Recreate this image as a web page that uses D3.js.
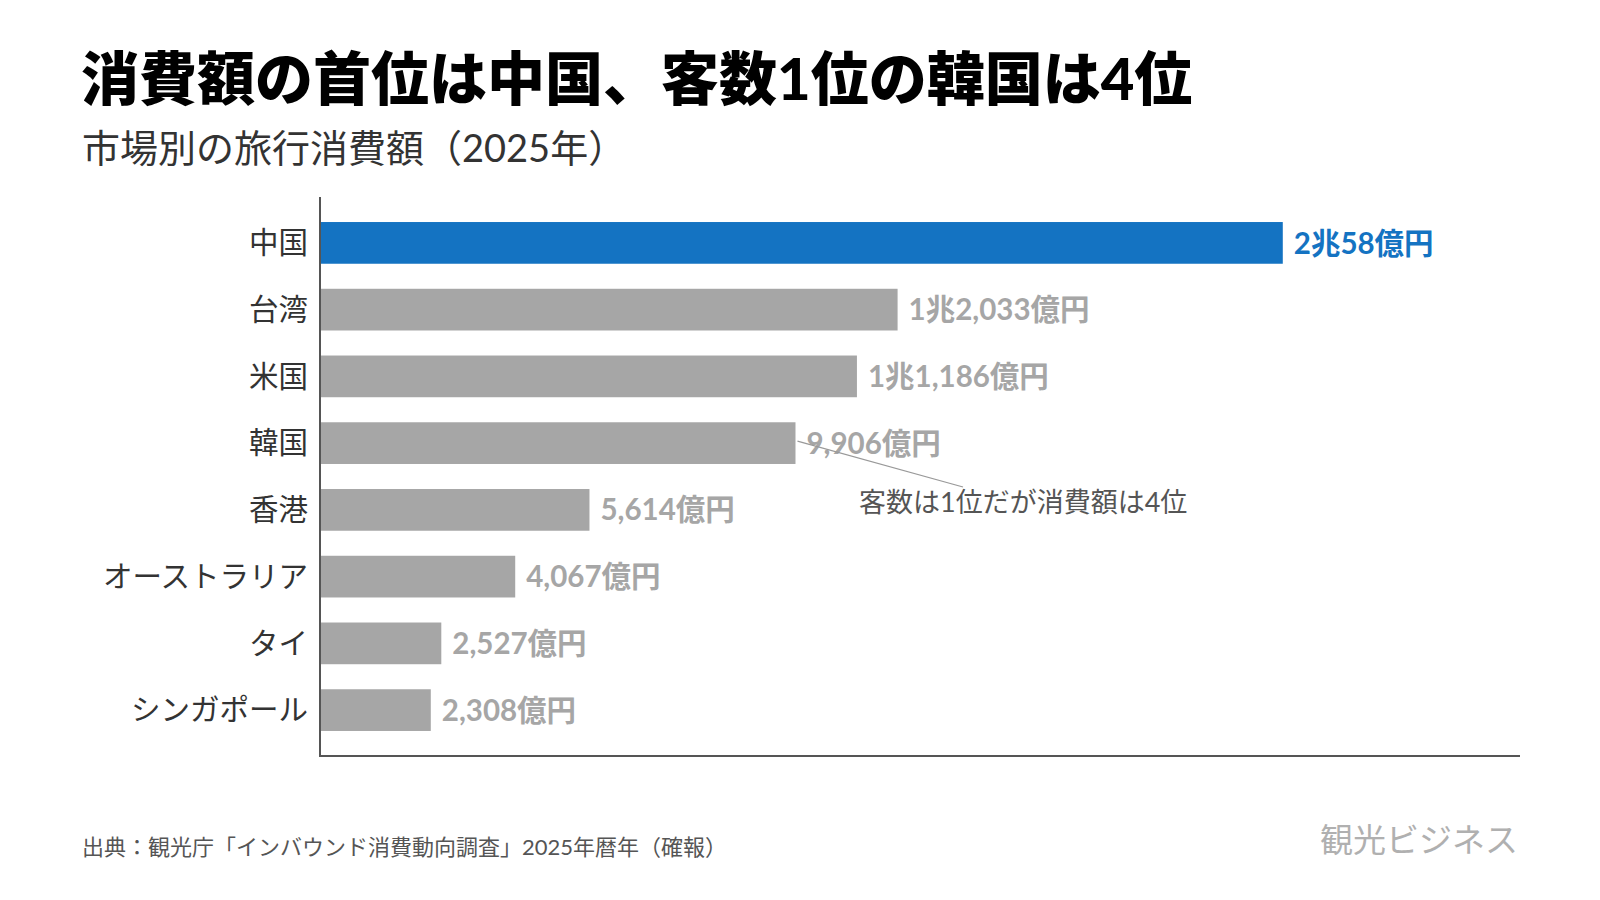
<!DOCTYPE html>
<html>
<head>
<meta charset="utf-8">
<script src="https://cdn.jsdelivr.net/npm/d3@7"></script>
<style>
	body { margin: 0; background: #fff; }
	svg { display: block; font-family: Lato, "Noto Sans CJK JP", sans-serif; }
</style>
</head>
<body>
<svg id="chart" width="1600" height="900"></svg>
<script>
var markets = ["中国", "台湾", "米国", "韓国", "香港", "オーストラリア", "タイ", "シンガポール"];
var spending = [20058, 12033, 11186, 9906, 5614, 4067, 2527, 2308];
var valueLabels = ["2兆58億円", "1兆2,033億円", "1兆1,186億円", "9,906億円", "5,614億円", "4,067億円", "2,527億円", "2,308億円"];

(function () {
	var svg = d3.select("#chart");
	var data = markets.map(function (m, i) {
		return { market: m, value: spending[i], label: valueLabels[i] };
	});

	var x = d3.scaleLinear()
		.domain([0, 25000])
		.range([320, 1520]);

	var y = d3.scaleBand()
		.domain(markets)
		.range([197, 756])
		.paddingInner(0.375)
		.paddingOuter(0.375);

	svg.append("text")
		.attr("x", 81)
		.attr("y", 100)
		.attr("font-size", 58)
		.attr("font-weight", 900)
		.attr("fill", "#000")
		.text("消費額の首位は中国、客数1位の韓国は4位");

	svg.append("text")
		.attr("x", 82)
		.attr("y", 162)
		.attr("font-size", 38)
		.attr("fill", "#333")
		.text("市場別の旅行消費額（2025年）");

	svg.selectAll(".bar")
		.data(data)
		.enter().append("rect")
		.attr("class", "bar")
		.attr("x", x(0))
		.attr("y", function (d) { return y(d.market); })
		.attr("width", function (d) { return x(d.value) - x(0); })
		.attr("height", y.bandwidth())
		.attr("fill", function (d, i) { return i === 0 ? "#1473c2" : "#a6a6a6"; });

	svg.selectAll(".cat")
		.data(data)
		.enter().append("text")
		.attr("class", "cat")
		.attr("x", 308)
		.attr("y", function (d) { return y(d.market) + y.bandwidth() / 2; })
		.attr("dy", "0.35em")
		.attr("text-anchor", "end")
		.attr("font-size", 29.5)
		.attr("font-family", "'Noto Sans CJK JP', sans-serif")
		.attr("fill", "#333")
		.text(function (d) { return d.market; });

	svg.selectAll(".val")
		.data(data)
		.enter().append("text")
		.attr("class", "val")
		.attr("x", function (d) { return x(d.value) + 11; })
		.attr("y", function (d) { return y(d.market) + y.bandwidth() / 2; })
		.attr("dy", "0.36em")
		.attr("font-size", 29.5)
		.attr("font-weight", 700)
		.attr("fill", function (d, i) { return i === 0 ? "#1473c2" : "#a6a6a6"; })
		.text(function (d) { return d.label; });

	// annotation for Korea
	var kr = data[3];
	svg.append("line")
		.attr("x1", x(kr.value) + 2)
		.attr("y1", y(kr.market) + y.bandwidth() / 2 - 2)
		.attr("x2", 963)
		.attr("y2", 487)
		.attr("stroke", "#999")
		.attr("stroke-width", 1.2);

	svg.append("text")
		.attr("x", 859)
		.attr("y", 512)
		.attr("font-size", 27)
		.attr("fill", "#555")
		.text("客数は1位だが消費額は4位");

	// axes lines
	svg.append("line")
		.attr("x1", x(0))
		.attr("x2", x(0))
		.attr("y1", 197)
		.attr("y2", 757)
		.attr("stroke", "#555")
		.attr("stroke-width", 2);

	svg.append("line")
		.attr("x1", x(0) - 1)
		.attr("x2", 1520)
		.attr("y1", 756)
		.attr("y2", 756)
		.attr("stroke", "#555")
		.attr("stroke-width", 2);

	svg.append("text")
		.attr("x", 82)
		.attr("y", 855)
		.attr("font-size", 22)
		.attr("fill", "#555")
		.text("出典：観光庁「インバウンド消費動向調査」2025年暦年（確報）");

	svg.append("text")
		.attr("x", 1518)
		.attr("y", 852)
		.attr("text-anchor", "end")
		.attr("font-size", 33)
		.attr("font-family", "'Noto Sans CJK JP', sans-serif")
		.attr("fill", "#b0b0b0")
		.text("観光ビジネス");
}) ();
</script>
</body>
</html>
